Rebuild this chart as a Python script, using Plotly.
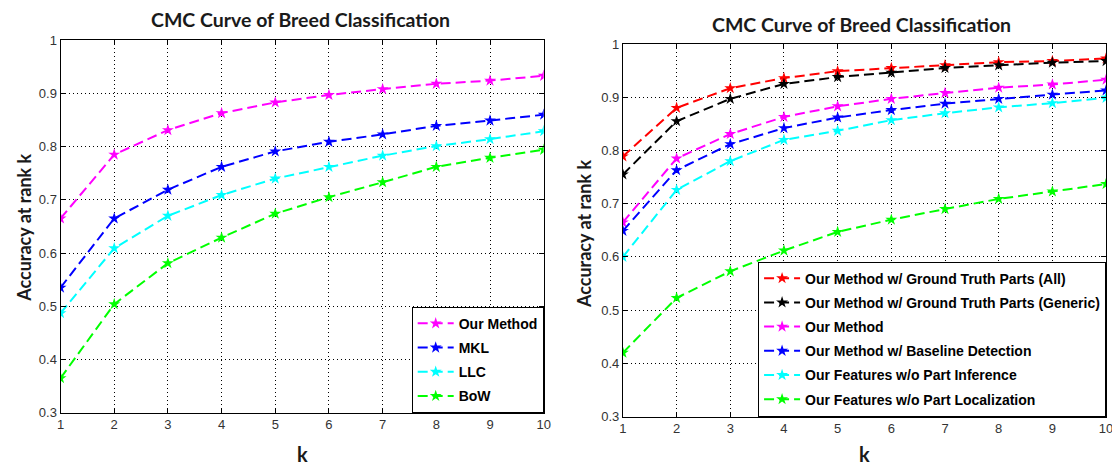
import plotly.graph_objects as go

k = [1, 2, 3, 4, 5, 6, 7, 8, 9, 10]

# Left chart
left_names = ["Our Method", "MKL", "LLC", "BoW"]
left_our = [0.665, 0.785, 0.831, 0.863, 0.883, 0.897, 0.908, 0.918, 0.924, 0.933]
left_mkl = [0.535, 0.665, 0.719, 0.762, 0.791, 0.809, 0.823, 0.839, 0.849, 0.860]
left_llc = [0.487, 0.609, 0.670, 0.709, 0.740, 0.762, 0.783, 0.801, 0.814, 0.829]
left_bow = [0.365, 0.504, 0.581, 0.629, 0.674, 0.705, 0.733, 0.762, 0.779, 0.794]
left_colors = ["#ff00ff", "#0000ff", "#00ffff", "#00ff00"]

# Right chart
right_names = [
    "Our Method w/ Ground Truth Parts (All)",
    "Our Method w/ Ground Truth Parts (Generic)",
    "Our Method",
    "Our Method w/ Baseline Detection",
    "Our Features w/o Part Inference",
    "Our Features w/o Part Localization",
]
right_all = [0.789, 0.880, 0.917, 0.936, 0.949, 0.955, 0.960, 0.966, 0.968, 0.973]
right_generic = [0.755, 0.855, 0.897, 0.925, 0.938, 0.946, 0.955, 0.960, 0.965, 0.968]
right_our = [0.665, 0.785, 0.831, 0.863, 0.883, 0.897, 0.908, 0.918, 0.924, 0.933]
right_baseline = [0.649, 0.763, 0.812, 0.842, 0.862, 0.876, 0.888, 0.897, 0.905, 0.913]
right_noinf = [0.600, 0.726, 0.780, 0.820, 0.837, 0.857, 0.870, 0.881, 0.889, 0.899]
right_noloc = [0.420, 0.523, 0.573, 0.612, 0.647, 0.670, 0.690, 0.709, 0.723, 0.737]
right_colors = ["#ff0000", "#000000", "#ff00ff", "#0000ff", "#00ffff", "#00ff00"]

y_ticks = [0.3, 0.4, 0.5, 0.6, 0.7, 0.8, 0.9, 1.0]
y_ticktext = ["0.3", "0.4", "0.5", "0.6", "0.7", "0.8", "0.9", "1"]

title_text = "CMC Curve of Breed Classification"
ytitle_text = "Accuracy at rank k"
xtitle_text = "k"

# The page body has an 8px default margin; compensate so the figure lines up
OFF = 8
W, H = 1120 - OFF, 473 - OFF

fig = go.Figure()

for i, (name, ys) in enumerate(zip(left_names, [left_our, left_mkl, left_llc, left_bow])):
    fig.add_trace(go.Scatter(
        x=k, y=ys, name=name, mode="lines+markers",
        line=dict(color=left_colors[i], width=2, dash="10px,5px"),
        marker=dict(symbol="star", size=9, color=left_colors[i], line=dict(width=0)),
        xaxis="x", yaxis="y", legend="legend", legendgroup="L%d" % i,
    ))

for i, (name, ys) in enumerate(zip(right_names, [right_all, right_generic, right_our,
                                                 right_baseline, right_noinf, right_noloc])):
    fig.add_trace(go.Scatter(
        x=k, y=ys, name=name, mode="lines+markers",
        line=dict(color=right_colors[i], width=2, dash="10px,5px"),
        marker=dict(symbol="star", size=9, color=right_colors[i], line=dict(width=0)),
        xaxis="x2", yaxis="y2", legend="legend2", legendgroup="R%d" % i,
    ))

def px_x(p):
    return (p - OFF) / W

def px_y(p):
    return 1 - (p - OFF) / H

tick_font = dict(family="Liberation Sans, Arial, sans-serif", size=13, color="#333333")

common_x = dict(range=[1, 10], tickvals=k, showline=True, linecolor="#000000", linewidth=1,
                mirror="ticks", ticks="inside", ticklen=5, tickcolor="#000000",
                showgrid=True, gridcolor="#000000", gridwidth=1, griddash="1px,3px",
                zeroline=False, tickfont=tick_font, fixedrange=True)
common_y = dict(range=[0.3, 1.0], tickvals=y_ticks, ticktext=y_ticktext, showline=True,
                linecolor="#000000", linewidth=1, mirror="ticks", ticks="inside", ticklen=5,
                tickcolor="#000000", showgrid=True, gridcolor="#000000", gridwidth=1,
                griddash="1px,3px", zeroline=False, tickfont=tick_font, fixedrange=True)

legend_common = dict(bgcolor="#ffffff", bordercolor="#000000", borderwidth=1,
                     font=dict(family="Liberation Sans, Arial, sans-serif", size=14,
                               color="#000000", weight="bold"),
                     xanchor="right", yanchor="bottom", tracegroupgap=3,
                     itemwidth=36)

title_font = dict(family="Lato, Open Sans, sans-serif", size=19.5, color="#1a1a1a", weight="bold")
axis_title_font = dict(family="Lato, Open Sans, sans-serif", size=18, color="#1a1a1a", weight="bold")
k_font = dict(family="Lato, Open Sans, sans-serif", size=20, color="#1a1a1a", weight="bold")

fig.update_layout(
    width=W, height=H,
    margin=dict(l=0, r=0, t=0, b=0),
    paper_bgcolor="#ffffff", plot_bgcolor="#ffffff",
    showlegend=True,
    xaxis=dict(domain=[px_x(57), px_x(545)], anchor="y", **common_x),
    yaxis=dict(domain=[px_y(419), px_y(34)], anchor="x", **common_y),
    xaxis2=dict(domain=[px_x(625), px_x(1113)], anchor="y2", **common_x),
    yaxis2=dict(domain=[px_y(423), px_y(38)], anchor="x2", **common_y),
    legend=dict(x=px_x(545), y=px_y(419), **legend_common),
    legend2=dict(x=px_x(1113), y=px_y(423), **legend_common),
    annotations=[
        dict(text=title_text, x=px_x(299), y=px_y(13), xref="paper", yref="paper",
             showarrow=False, xanchor="center", yanchor="middle", font=title_font),
        dict(text=title_text, x=px_x(866), y=px_y(18), xref="paper", yref="paper",
             showarrow=False, xanchor="center", yanchor="middle", font=title_font),
        dict(text=ytitle_text, x=px_x(20), y=px_y(228), xref="paper", yref="paper",
             showarrow=False, xanchor="center", yanchor="middle", textangle=-90,
             font=axis_title_font),
        dict(text=ytitle_text, x=px_x(585), y=px_y(234), xref="paper", yref="paper",
             showarrow=False, xanchor="center", yanchor="middle", textangle=-90,
             font=axis_title_font),
        dict(text=xtitle_text, x=px_x(301), y=px_y(462), xref="paper", yref="paper",
             showarrow=False, xanchor="center", yanchor="middle", font=k_font),
        dict(text=xtitle_text, x=px_x(869), y=px_y(462), xref="paper", yref="paper",
             showarrow=False, xanchor="center", yanchor="middle", font=k_font),
    ],
)

fig.write_html("out.html")
